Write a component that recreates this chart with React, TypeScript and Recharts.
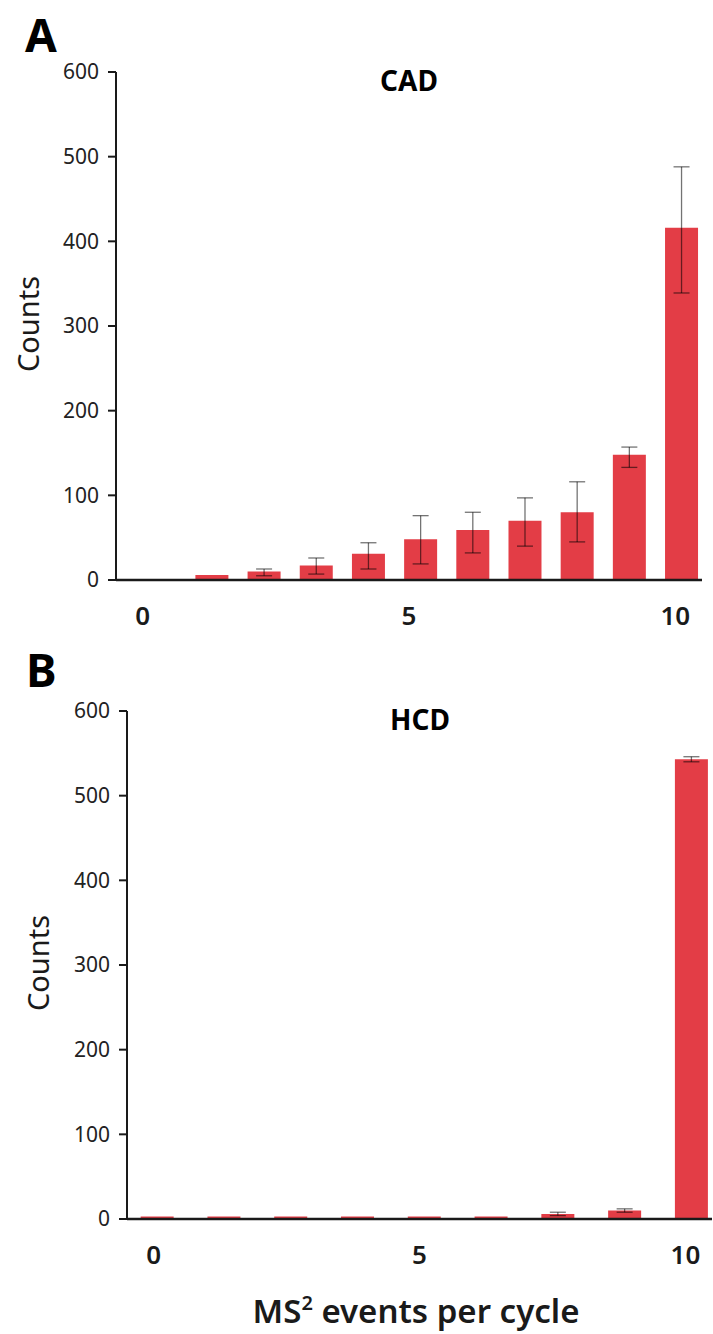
import { Bar, BarChart, ErrorBar, XAxis, YAxis } from "recharts";

// panel A (CAD): positions 0..10
const BAR_X_A = [0, 1, 2, 3, 4, 5, 6, 7, 8, 9, 10];
const COUNTS_A = [0, 6, 10, 17, 31, 48, 59, 70, 80, 148, 416];
const LOW_A = [null, null, 5, 7, 13, 19, 32, 40, 45, 133, 339];
const HIGH_A = [null, null, 13, 26, 44, 76, 80, 97, 116, 157, 488];

// panel B (HCD): nine bars spread under the 0..10 labels
const BAR_X_B = [0, 1, 2, 3, 4, 5, 6, 7, 8];
const COUNTS_B = [3, 3, 3, 3, 3, 3, 6, 10, 543];
const LOW_B = [null, null, null, null, null, null, 4, 8, 540];
const HIGH_B = [null, null, null, null, null, null, 8, 12, 546];

const X_TICKS = [0, 5, 10];
const Y_TICKS = [0, 100, 200, 300, 400, 500, 600];

const RED = "#E33D46";
const INK = "#1a1a1a";
const FONT = "'Noto Sans', sans-serif";

type Row = { x: number; v: number; err: [number, number] | null };

function rows(xs: number[], vs: number[], lo: (number | null)[], hi: (number | null)[]): Row[] {
  return xs.map((x, i) => ({
    x,
    v: vs[i],
    err: lo[i] == null || hi[i] == null ? null : [vs[i] - (lo[i] as number), (hi[i] as number) - vs[i]],
  }));
}

function Panel({
  data,
  yWidth,
  right,
  barDomain,
}: {
  data: Row[];
  yWidth: number;
  right: number;
  barDomain: [number, number];
}) {
  return (
    <BarChart
      width={713}
      height={650}
      data={data}
      margin={{ top: 72, right, left: 0, bottom: 0 }}
      style={{ fontFamily: FONT }}
    >
      <XAxis
        xAxisId="labels"
        dataKey="x"
        type="number"
        domain={[-0.5, 10.5]}
        allowDataOverflow
        ticks={X_TICKS}
        interval={0}
        height={70}
        tickLine={false}
        tickSize={0}
        tickMargin={27}
        axisLine={{ stroke: INK, strokeWidth: 2.5 }}
        tick={{ fontSize: 26, fontWeight: 600, fill: INK }}
      />
      <XAxis xAxisId="bars" dataKey="x" type="number" domain={barDomain} allowDataOverflow hide height={0} />
      <YAxis
        domain={[0, 600]}
        ticks={Y_TICKS}
        interval={0}
        width={yWidth}
        tickSize={8}
        tickMargin={9}
        axisLine={{ stroke: INK, strokeWidth: 2 }}
        tickLine={{ stroke: INK, strokeWidth: 2 }}
        tick={{ fontSize: 21, fill: "#222" }}
      />
      <Bar xAxisId="bars" dataKey="v" fill={RED} barSize={33} isAnimationActive={false}>
        <ErrorBar dataKey="err" direction="y" width={8} stroke="rgba(0,0,0,0.55)" strokeWidth={1.3} />
      </Bar>
    </BarChart>
  );
}

export default function App() {
  const dataA = rows(BAR_X_A, COUNTS_A, LOW_A, HIGH_A);
  const dataB = rows(BAR_X_B, COUNTS_B, LOW_B, HIGH_B);
  return (
    <div style={{ position: "absolute", left: 0, top: 0, width: 713, height: 1334, background: "#fff" }}>
      <div style={{ position: "absolute", left: 0, top: 0 }}>
        <Panel data={dataA} yWidth={116} right={11} barDomain={[-0.83, 10.4]} />
      </div>
      <div style={{ position: "absolute", left: 0, top: 639 }}>
        <Panel data={dataB} yWidth={127} right={1} barDomain={[-0.45, 8.31]} />
      </div>
      <svg
        width={713}
        height={1334}
        style={{ position: "absolute", left: 0, top: 0, pointerEvents: "none", fontFamily: FONT }}
      >
        <text x={25} y={52} fontSize={46} fontWeight={700} fill="#000">A</text>
        <text x={409} y={91} fontSize={28} fontWeight={700} fill="#000" textAnchor="middle">CAD</text>
        <text
          x={27}
          y={324}
          fontSize={29}
          fill={INK}
          textAnchor="middle"
          dominantBaseline="central"
          transform="rotate(-90 27 324)"
        >
          Counts
        </text>

        <text x={26} y={687} fontSize={46} fontWeight={700} fill="#000">B</text>
        <text x={420} y={730} fontSize={28} fontWeight={700} fill="#000" textAnchor="middle">HCD</text>
        <text
          x={37}
          y={963}
          fontSize={29}
          fill={INK}
          textAnchor="middle"
          dominantBaseline="central"
          transform="rotate(-90 37 963)"
        >
          Counts
        </text>

        <text x={416} y={1323} fontSize={33} fontWeight={600} fill={INK} textAnchor="middle">
          MS<tspan fontSize={20} dy={-13}>2</tspan>
          <tspan dy={13}> events per cycle</tspan>
        </text>
      </svg>
    </div>
  );
}
